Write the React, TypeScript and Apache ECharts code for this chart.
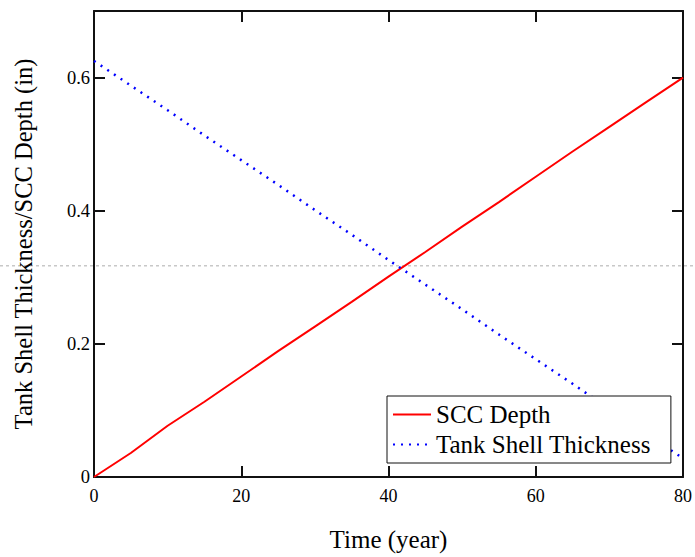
import React, { useEffect, useRef } from "react";
import * as echarts from "echarts";

const years = [0, 5, 10, 15, 20, 25, 30, 35, 40, 45, 50, 55, 60, 65, 70, 75, 80];
const sccDepth = [0, 0.036, 0.077, 0.113, 0.151, 0.189, 0.226, 0.263, 0.301, 0.338, 0.376, 0.413, 0.451, 0.489, 0.526, 0.563, 0.6];
const shellThickness = [0.625, 0.588, 0.551, 0.513, 0.476, 0.439, 0.401, 0.364, 0.326, 0.289, 0.252, 0.214, 0.177, 0.140, 0.102, 0.065, 0.028];
const referenceLevel = 0.3175;
const xTicks = { min: 0, max: 80, interval: 20 };
const yTicks = { min: 0, max: 0.7, interval: 0.2 };

const FONT = "'Liberation Serif', 'Times New Roman', serif";

export default function App() {
  const ref = useRef<HTMLDivElement>(null);
  useEffect(() => {
    document.body.style.margin = "0";
    const chart = echarts.init(ref.current!, null, { renderer: "svg" });
    const axisLine = { show: true, onZero: false, lineStyle: { color: "#111", width: 2 } };
    const axisTick = { show: true, inside: true, length: 11, lineStyle: { color: "#111", width: 2 } };
    chart.setOption({
      animation: false,
      backgroundColor: "#fff",
      textStyle: { fontFamily: FONT },
      grid: { left: 94, top: 11, right: 11, bottom: 79, containLabel: false },
      xAxis: [
        {
          type: "value",
          ...xTicks,
          position: "bottom",
          axisLine,
          axisTick,
          splitLine: { show: false },
          axisLabel: { color: "#000", fontSize: 18, fontFamily: FONT, margin: 10 },
          name: "Time (year)",
          nameLocation: "middle",
          nameGap: 50,
          nameTextStyle: { color: "#000", fontSize: 25, fontFamily: FONT },
        },
        {
          type: "value",
          ...xTicks,
          position: "top",
          axisLine,
          axisTick,
          splitLine: { show: false },
          axisLabel: { show: false },
        },
      ],
      yAxis: [
        {
          type: "value",
          ...yTicks,
          position: "left",
          axisLine,
          axisTick,
          splitLine: { show: false },
          axisLabel: { color: "#000", fontSize: 18.5, fontFamily: FONT, margin: 4, showMaxLabel: false },
          name: "Tank Shell Thickness/SCC Depth (in)",
          nameLocation: "middle",
          nameGap: 58,
          nameTextStyle: { color: "#000", fontSize: 24.5, fontFamily: FONT },
        },
        {
          type: "value",
          ...yTicks,
          position: "right",
          axisLine,
          axisTick,
          splitLine: { show: false },
          axisLabel: { show: false },
        },
      ],
      legend: {
        orient: "vertical",
        left: 387,
        top: 396,
        padding: [6, 20, 6, 5],
        itemGap: 5,
        itemWidth: 38,
        itemHeight: 14,
        borderColor: "#111",
        borderWidth: 1,
        backgroundColor: "#fff",
        itemStyle: { opacity: 0 },
        textStyle: { color: "#000", fontSize: 25, fontFamily: FONT },
        data: ["SCC Depth", "Tank Shell Thickness"],
      },
      series: [
        {
          name: "SCC Depth",
          type: "line",
          showSymbol: false,
          symbol: "none",
          data: years.map((y, i) => [y, sccDepth[i]]),
          lineStyle: { color: "#ff0000", width: 2 },
          itemStyle: { color: "#ff0000" },
        },
        {
          name: "Tank Shell Thickness",
          type: "line",
          showSymbol: false,
          symbol: "none",
          data: years.map((y, i) => [y, shellThickness[i]]),
          lineStyle: { color: "#0000ff", width: 2.5, type: [2, 6] },
          itemStyle: { color: "#0000ff" },
        },
      ],
    });
    const yPix = chart.convertToPixel({ yAxisIndex: 0 }, referenceLevel) as number;
    chart.setOption({
      graphic: [
        {
          type: "line",
          z: 0,
          shape: { x1: 0, y1: yPix, x2: 695, y2: yPix },
          style: { stroke: "#c8c8c8", lineWidth: 1.5, lineDash: [3, 3] },
        },
      ],
    });
    return () => chart.dispose();
  }, []);
  return <div ref={ref} style={{ width: 695, height: 557 }} />;
}
